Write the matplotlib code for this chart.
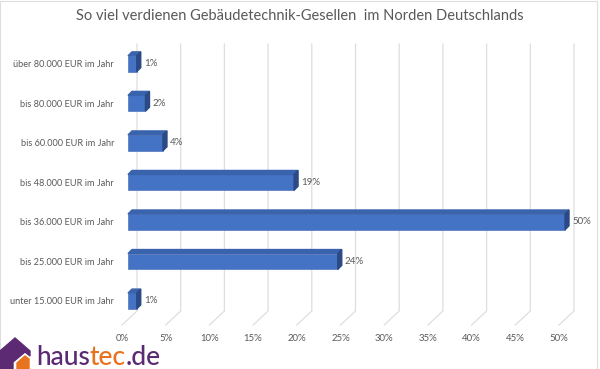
import matplotlib.pyplot as plt
from matplotlib.patches import Polygon, Rectangle

plt.rcParams['font.family'] = ['Lato', 'DejaVu Sans']

title = "So viel verdienen Gebäudetechnik-Gesellen  im Norden Deutschlands"
categories = ["unter 15.000 EUR im Jahr", "bis 25.000 EUR im Jahr", "bis 36.000 EUR im Jahr",
              "bis 48.000 EUR im Jahr", "bis 60.000 EUR im Jahr", "bis 80.000 EUR im Jahr",
              "über 80.000 EUR im Jahr"]
values = [1, 24, 50, 19, 4, 2, 1]
ticks = [0, 5, 10, 15, 20, 25, 30, 35, 40, 45, 50]

W, H, DPI = 600, 369, 100
XS = 8.74   # px per percent
YS = 39.5   # px per category
front, top_c, side_c = "#4472C4", "#3a63ad", "#2b4a85"
text_c = "#595959"
grid_c = "#dedede"

fig = plt.figure(figsize=(W / DPI, H / DPI), dpi=DPI)
x0, y_bot, y_top = 128, 320.75, 44
ax = fig.add_axes([x0 / W, (H - y_bot) / H, 52 * XS / W, (y_bot - y_top) / H])
ax.set_xlim(0, 52)
ax.set_ylim(-0.5, 6.5)
for s in ax.spines.values():
    s.set_visible(False)
ax.set_xticks([])
ax.set_yticks(range(len(categories)))
ax.set_yticklabels(categories, fontsize=6.6, color=text_c)
ax.tick_params(axis='y', length=0, pad=10)


def px_x(p):
    return p / XS


def px_y(p):
    return p / YS


# back wall gridlines with floor edge
back = px_x(9)
y_floor = -0.5 + px_y(y_bot - 311)
y_edge = -0.5 + px_y(y_bot - 325)
for t in ticks:
    ax.plot([t + back, t + back, t + back - px_x(15)], [6.5, y_floor, y_edge],
            color=grid_c, lw=0.9, clip_on=False, zorder=0)
    ax.text(t + back - px_x(15), -0.5 - px_y(338 - y_bot), f"{t}%",
            ha='center', va='center', fontsize=6.9, color=text_c)

# 3D bars
h = 0.4
dx, dy = px_x(4), px_y(4)
for i, v in enumerate(values):
    ax.barh(i, v, height=h, left=0, color=front, edgecolor="#3d67b3", lw=0.4, zorder=3)
    yt, yb = i + h / 2, i - h / 2
    ax.add_patch(Polygon([(0, yt), (v, yt), (v + dx, yt + dy), (dx, yt + dy)],
                         closed=True, color=top_c, zorder=3, clip_on=False))
    ax.add_patch(Polygon([(v, yb), (v, yt), (v + dx, yt + dy), (v + dx, yb + dy)],
                         closed=True, color=side_c, zorder=3, clip_on=False))
    ax.text(v + dx + px_x(3), i, f"{v}%", ha='left', va='center',
            fontsize=7, color=text_c, zorder=4)

fig.text(0.5, 1 - 16 / H, title, ha='center', va='center', fontsize=10.5, color=text_c)

# chart border
fig.patches.append(Rectangle((0, 0.5 / H), 597 / W, 1 - 1.5 / H, transform=fig.transFigure,
                             fill=False, ec=grid_c, lw=0.8))

# logo
purple, orange = "#5b2a73", "#e8731f"


def fp(pts):
    return [(x / W, 1 - y / H) for x, y in pts]


fig.patches.append(Polygon(fp([(0, 369), (0, 351), (15, 338), (30, 351), (30, 356), (25, 352),
                               (13, 362), (13, 369)]),
                           closed=True, color=purple, transform=fig.transFigure))
fig.patches.append(Polygon(fp([(17, 369), (17, 363), (25, 356), (29, 359), (29, 369)]),
                           closed=True, color=orange, transform=fig.transFigure))

parts = [("haus", purple), ("tec", orange), (".de", purple)]
xpos = 36 / W
fig.canvas.draw()
r = fig.canvas.get_renderer()
for txt, c in parts:
    t = fig.text(xpos, 1 - 365 / H, txt, ha='left', va='baseline', fontsize=19,
                 fontweight='medium', color=c)
    bb = t.get_window_extent(renderer=r)
    xpos += bb.width / W

fig.savefig("out.png", dpi=DPI)
